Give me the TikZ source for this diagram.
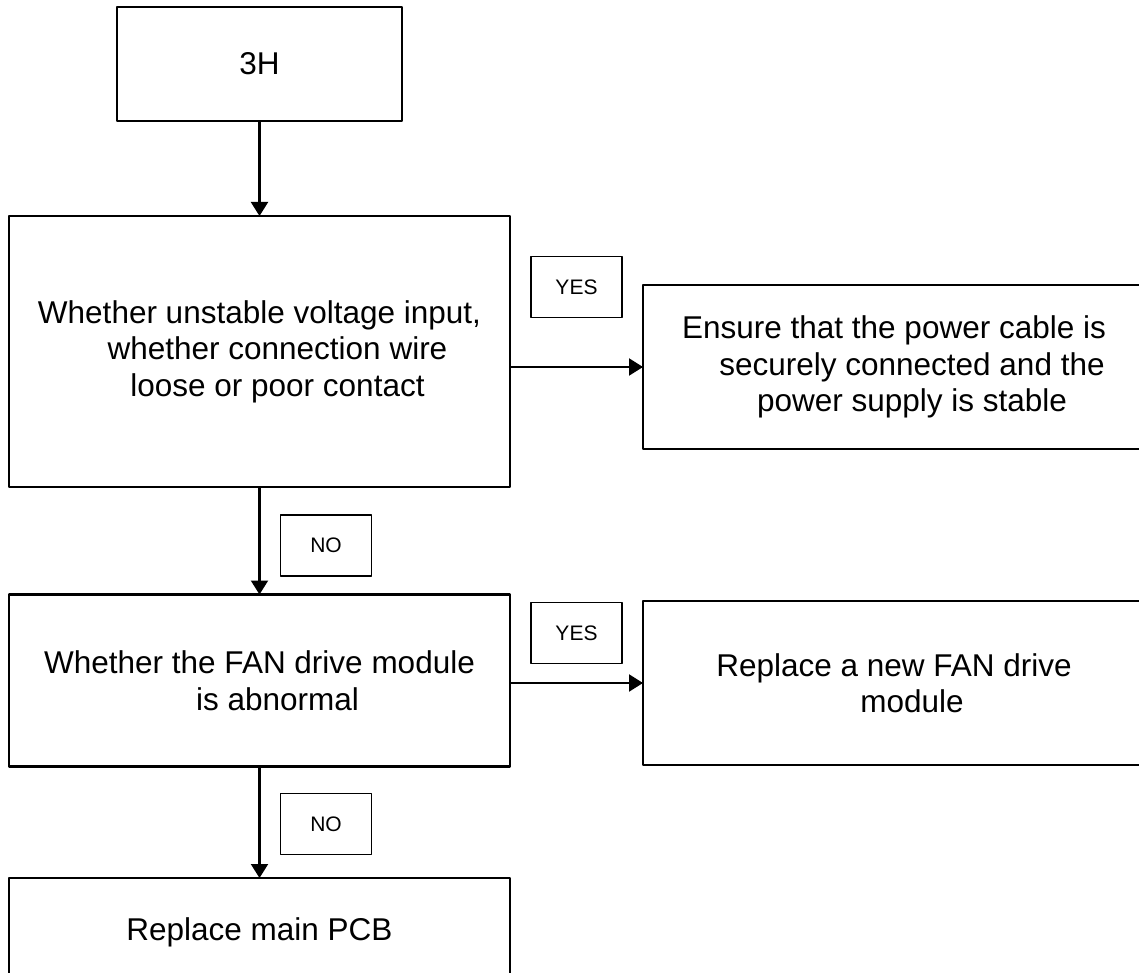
\documentclass[tikz,border=0pt]{standalone}
\usepackage{fontspec}
\setmainfont{Liberation Sans}
\usetikzlibrary{arrows.meta}
\begin{document}
\begin{tikzpicture}[x=1pt,y=-1pt, line join=round, >={Triangle[width=17pt,length=14pt]},
	hop/.style={draw, line width=2.3pt, inner sep=0pt, outer sep=0pt, align=center, font=\fontsize{31.5}{36.5}\selectfont},
	tag/.style={draw, line width=1.9pt, inner sep=0pt, outer sep=0pt, minimum width=91pt, minimum height=61pt, font=\fontsize{21}{25}\selectfont}]
	\def\ind{\hspace*{36pt}} % cac dong sau lech sang phai
	\useasboundingbox (0,0) rectangle (1139,973);
	\node[hop, minimum width=285pt, minimum height=114pt] (top) at (259.5,64) {3H};
	\node[hop, minimum width=501pt, minimum height=271pt] (q1) at (259.5,351.5) {Whether unstable voltage input,\\ \ind whether connection wire\\ \ind loose or poor contact};
	\node[hop, minimum width=502pt, minimum height=164pt] (fix1) at (894,367) {Ensure that the power cable is\\ \ind securely connected and the\\ \ind power supply is stable};
	\node[hop, minimum width=501pt, minimum height=172pt] (q2) at (259.5,680.5) {Whether the FAN drive module\\ \ind is abnormal};
	\node[hop, minimum width=502pt, minimum height=164pt] (fix2) at (894,683) {Replace a new FAN drive\\ \ind module};
	\node[hop, minimum width=501pt, minimum height=108pt] (pcb) at (259.5,932) {Replace main PCB};
	\node[tag] (yes1) at (576.5,287) {YES};
	\node[tag] (no1) at (326,545.5) {NO};
	\node[tag] (yes2) at (576.5,633) {YES};
	\node[tag] (no2) at (326,824) {NO};
	\draw[->, line width=2.1pt] (top) -- (q1);
	\draw[->, line width=2.1pt] (q1.east |- fix1.west) -- (fix1.west);
	\draw[->, line width=2.1pt] (q1) -- (q2);
	\draw[->, line width=2.1pt] (q2.east |- fix2.west) -- (fix2.west);
	\draw[->, line width=2.1pt] (q2) -- (pcb);
\end{tikzpicture}
\end{document}
